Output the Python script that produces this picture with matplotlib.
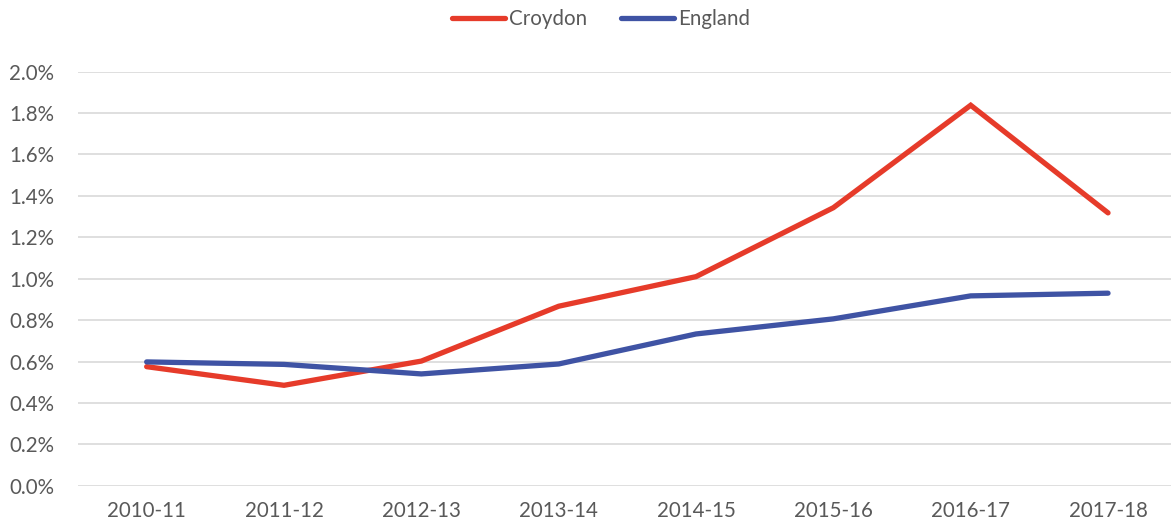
import matplotlib.pyplot as plt
from matplotlib.ticker import FuncFormatter

# share of pupils, Croydon vs England
years = ["2010-11", "2011-12", "2012-13", "2013-14", "2014-15", "2015-16", "2016-17", "2017-18"]
croydon = [0.575, 0.485, 0.602, 0.867, 1.010, 1.343, 1.838, 1.318]
england = [0.598, 0.586, 0.540, 0.588, 0.733, 0.806, 0.917, 0.930]

plt.rcParams['font.family'] = ['Lato', 'DejaVu Sans']
txt = '#595959'

fig = plt.figure(figsize=(11.71, 5.32), dpi=100)
ax = fig.add_axes([78 / 1171, (532 - 485.7) / 532, (1176.7 - 78) / 1171, (485.7 - 71.7) / 532])

x = range(len(years))
ax.plot(x, croydon, color='#E63B2A', lw=3.8, solid_capstyle='round', solid_joinstyle='miter', label='Croydon', zorder=3)
ax.plot(x, england, color='#3F53A4', lw=3.8, solid_capstyle='round', solid_joinstyle='miter', label='England', zorder=3)

ax.set_xlim(-0.5, len(years) - 0.5)
ax.set_ylim(0, 2.0)
ax.set_yticks([i * 0.2 for i in range(11)])
ax.yaxis.set_major_formatter(FuncFormatter(lambda v, p: f"{v:.1f}%"))
ax.set_xticks(list(x))
ax.set_xticklabels(years)
ax.grid(axis='y', color='#D9D9D9', lw=1.2)
ax.set_axisbelow(True)
for s in ax.spines.values():
    s.set_visible(False)
ax.tick_params(length=0, labelsize=14.8, colors=txt)
ax.tick_params(axis='y', pad=17)
ax.tick_params(axis='x', pad=11)

leg = fig.legend(loc='center', bbox_to_anchor=(601 / 1171, 1 - 19 / 532), ncol=2, frameon=False,
                 fontsize=14.8, handlelength=2.6, handletextpad=0.2, columnspacing=1.6)
for t in leg.get_texts():
    t.set_color(txt)

fig.savefig('out.png', dpi=100)
